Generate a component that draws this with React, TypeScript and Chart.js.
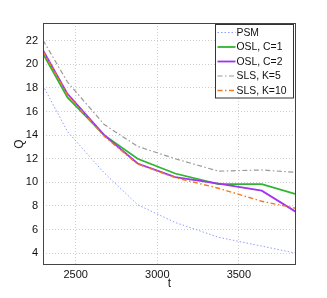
import React, { useEffect, useRef } from "react";
import { Chart, registerables } from "chart.js";
Chart.register(...registerables);

const tValues = [2300, 2450, 2675, 2880, 3110, 3375, 3640, 3850];
const psm = [18.2, 14.3, 10.8, 8.1, 6.6, 5.35, 4.6, 4.0];
const oslC1 = [20.9, 17.2, 14.0, 12.0, 10.75, 9.85, 9.85, 9.0];
const oslC2 = [21.2, 17.5, 14.0, 11.6, 10.45, 9.9, 9.3, 7.5];
const slsK5 = [22.05, 18.5, 14.9, 13.05, 12.0, 10.95, 11.05, 10.85];
const slsK10 = [21.1, 17.4, 13.9, 11.55, 10.4, 9.5, 8.4, 7.8];
const xTicks = [2500, 3000, 3500];
const yTicks = [4, 6, 8, 10, 12, 14, 16, 18, 20, 22];
const seriesNames = ["PSM", "OSL, C=1", "OSL, C=2", "SLS, K=5", "SLS, K=10"];

const FONT = "'Liberation Sans', Arial, Helvetica, sans-serif";

const styles = [
  { color: "#8f9dff", width: 1, dash: [1.5, 2] },
  { color: "#2fb52f", width: 1.8, dash: [] as number[] },
  { color: "#a035f0", width: 1.8, dash: [] as number[] },
  { color: "#9a9a9a", width: 1.2, dash: [5, 2.5, 1.5, 2.5] },
  { color: "#f07a22", width: 1.4, dash: [5, 2.5, 1.5, 2.5] },
];

const framePlugin = {
  id: "frame",
  afterDatasetsDraw(chart: any) {
    const { ctx, chartArea: a } = chart;
    ctx.save();
    ctx.strokeStyle = "#444";
    ctx.lineWidth = 1;
    ctx.setLineDash([]);
    ctx.strokeRect(a.left + 0.5, a.top + 0.5, a.right - a.left - 1, a.bottom - a.top - 1);
    // titles
    ctx.fillStyle = "#222";
    ctx.font = `12px ${FONT}`;
    ctx.textAlign = "center";
    ctx.textBaseline = "middle";
    ctx.fillText("t", (a.left + a.right) / 2, 284);
    ctx.save();
    ctx.translate(20, (a.top + a.bottom) / 2);
    ctx.rotate(-Math.PI / 2);
    ctx.fillText("Q", 0, 0);
    ctx.restore();
    // legend
    const lx = 215.5, ly = 24.5, lw = 78, lh = 73.5;
    ctx.fillStyle = "#fff";
    ctx.fillRect(lx, ly, lw, lh);
    ctx.strokeStyle = "#333";
    ctx.strokeRect(lx, ly, lw, lh);
    ctx.font = `10.4px ${FONT}`;
    ctx.textAlign = "left";
    const rows = [32.5, 47, 61.5, 76, 90.5];
    seriesNames.forEach((name, i) => {
      const s = styles[i];
      ctx.strokeStyle = s.color;
      ctx.lineWidth = s.width;
      ctx.setLineDash(s.dash);
      ctx.beginPath();
      ctx.moveTo(lx + 2, rows[i]);
      ctx.lineTo(lx + 20, rows[i]);
      ctx.stroke();
      ctx.setLineDash([]);
      ctx.fillStyle = "#111";
      ctx.fillText(name, lx + 21, rows[i] + 0.5);
    });
    ctx.restore();
  },
};

export default function App() {
  const ref = useRef<HTMLCanvasElement>(null);
  useEffect(() => {
    document.body.style.margin = "0";
    const data = [psm, oslC1, oslC2, slsK5, slsK10];
    const chart = new Chart(ref.current!, {
      type: "line",
      data: {
        datasets: data.map((vals, i) => ({
          label: seriesNames[i],
          data: vals.map((v, j) => ({ x: tValues[j], y: v })),
          borderColor: styles[i].color,
          borderWidth: styles[i].width,
          borderDash: styles[i].dash,
          pointRadius: 0,
          fill: false,
          tension: 0,
          order: 5 - i,
        })),
      },
      options: {
        animation: false,
        responsive: false,
        maintainAspectRatio: false,
        layout: { padding: { left: 0, top: 23, right: 31, bottom: 0 } },
        plugins: { legend: { display: false }, tooltip: { enabled: false } },
        scales: {
          x: {
            type: "linear",
            min: 2300,
            max: 3850,
            afterBuildTicks: (s: any) => {
              s.ticks = xTicks.map((v) => ({ value: v }));
            },
            afterFit: (s: any) => {
              s.height = 33;
            },
            grid: { color: "#cfcfcf", tickLength: 0 },
            border: { display: false, dash: [1, 2] },
            ticks: {
              color: "#111",
              font: { family: FONT, size: 11 },
              padding: 3,
              maxRotation: 0,
              callback: (v: any) => String(v),
            },
          },
          y: {
            type: "linear",
            min: 3,
            max: 23.5,
            afterBuildTicks: (s: any) => {
              s.ticks = yTicks.map((v) => ({ value: v }));
            },
            afterFit: (s: any) => {
              s.width = 43;
            },
            grid: { color: "#cfcfcf", tickLength: 0 },
            border: { display: false, dash: [1, 2] },
            ticks: {
              color: "#111",
              font: { family: FONT, size: 11 },
              padding: 5,
              callback: (v: any) => String(v),
            },
          },
        },
      },
      plugins: [framePlugin],
    });
    return () => chart.destroy();
  }, []);
  return (
    <div style={{ position: "absolute", left: 0, top: 0, width: 327, height: 298, background: "#fff" }}>
      <canvas ref={ref} width={327} height={298} style={{ width: 327, height: 298 }} />
    </div>
  );
}
